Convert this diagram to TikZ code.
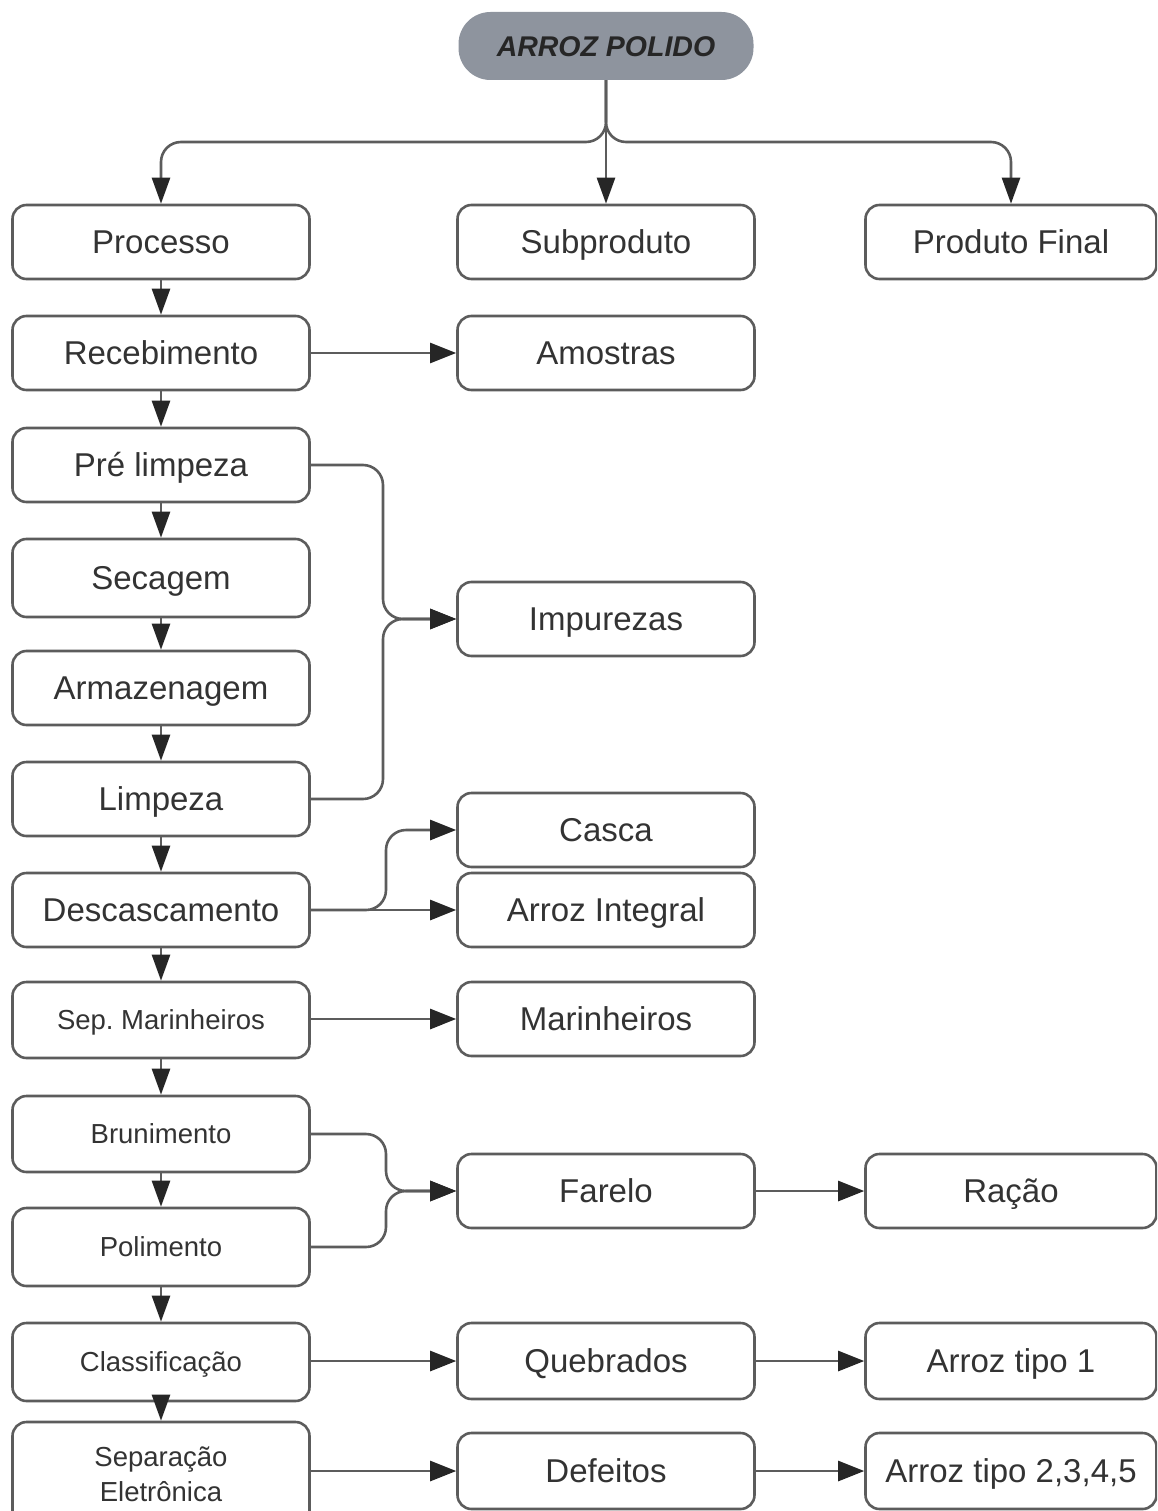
\documentclass[tikz,border=0pt]{standalone}
\usepackage{fontspec}
\setmainfont{Liberation Sans}
\usetikzlibrary{arrows.meta}
\definecolor{linec}{HTML}{5C5C5C}
\definecolor{tipc}{HTML}{262626}
\definecolor{txtc}{HTML}{333333}
\definecolor{topfill}{HTML}{8E949E}
\frenchspacing
\begin{document}
\begin{tikzpicture}[x=1pt,y=-1pt,
 box/.style={draw=linec, line width=2.6pt, rounded corners=14pt, fill=white, text=txtc,
   minimum height=74pt, inner sep=0pt, align=center, font=\fontsize{33}{38}\selectfont,
   text height=30.5pt, text depth=7pt},
 lbox/.style={box, minimum width=297pt},
 mbox/.style={box, minimum width=297pt},
 rbox/.style={box, minimum width=291pt},
 smalltext/.style={font=\fontsize{27.5}{35}\selectfont, text height=25.7pt, text depth=6pt},
 conn/.style={draw=linec, line width=2.6pt, -{Triangle[length=26pt,width=20pt,color=tipc]}},
 vconn/.style={conn, -{Triangle[length=26pt,width=18pt,color=tipc]}}
]
\useasboundingbox (0,0) rectangle (1157,1511);
\clip (0,0) rectangle (1157,1511);

% top
\node[fill=topfill, rounded corners=32pt, minimum width=295pt, minimum height=68pt, inner sep=0pt,
  text=black!85, font=\fontsize{28.5}{34}\selectfont\bfseries\itshape,
  text height=27pt, text depth=6.5pt] (top) at (606,46) {ARROZ POLIDO};

% left column
\node[lbox] (proc) at (161,242) {Processo};
\node[lbox] (rec) at (161,353) {Recebimento};
\node[lbox] (pre) at (161,465) {Pré limpeza};
\node[lbox, minimum height=78pt] (sec) at (161,578) {Secagem};
\node[lbox] (arm) at (161,688) {Armazenagem};
\node[lbox] (lim) at (161,799) {Limpeza};
\node[lbox] (desc) at (161,910) {Descascamento};
\node[lbox, smalltext, minimum height=76pt] (sepm) at (161,1020) {Sep.\ Marinheiros};
\node[lbox, smalltext, minimum height=76pt] (bru) at (161,1134) {Brunimento};
\node[lbox, smalltext, minimum height=78pt] (pol) at (161,1247) {Polimento};
\node[lbox, smalltext, minimum height=78pt] (cla) at (161,1362) {Classificação};
\node[lbox, smalltext, text height={}, text depth={}, minimum height=104pt] (sepe) at (161,1474) {Separação\\Eletrônica};

% middle column
\node[mbox] (sub) at (606,242) {Subproduto};
\node[mbox] (amo) at (606,353) {Amostras};
\node[mbox] (imp) at (606,619) {Impurezas};
\node[mbox] (cas) at (606,830) {Casca};
\node[mbox] (ai) at (606,910) {Arroz Integral};
\node[mbox] (mar) at (606,1019) {Marinheiros};
\node[mbox] (far) at (606,1191) {Farelo};
\node[mbox, minimum height=76pt] (que) at (606,1361) {Quebrados};
\node[mbox, minimum height=76pt] (def) at (606,1471) {Defeitos};

% right column
\node[rbox] (pf) at (1011,242) {Produto Final};
\node[rbox] (rac) at (1011,1191) {Ração};
\node[rbox, minimum height=76pt] (t1) at (1011,1361) {Arroz tipo 1};
\node[rbox, minimum height=76pt] (t2) at (1011,1471) {Arroz tipo 2,3,4,5};

% top connectors
\draw[vconn, rounded corners=20pt] (top.south) -- (606,142) -| (proc.north);
\draw[vconn, rounded corners=20pt] (top.south) -- (606,142) -| (pf.north);
\draw[vconn] (top.south) -- (sub.north);

% left chain
\draw[vconn] (proc) -- (rec);
\draw[vconn] (rec) -- (pre);
\draw[vconn] (pre) -- (sec);
\draw[vconn] (sec) -- (arm);
\draw[vconn] (arm) -- (lim);
\draw[vconn] (lim) -- (desc);
\draw[vconn] (desc) -- (sepm);
\draw[vconn] (sepm) -- (bru);
\draw[vconn] (bru) -- (pol);
\draw[vconn] (pol) -- (cla);
\draw[vconn] (cla) -- (sepe);

% side connectors
\draw[conn] (rec.east) -- (amo.west);
\coordinate (j1) at (383,619);
\draw[conn, rounded corners=20pt] (pre.east) -- (j1 |- pre.east) -- (j1) -- (imp.west);
\draw[conn, rounded corners=20pt] (lim.east) -- (j1 |- lim.east) -- (j1) -- (imp.west);

\draw[conn] (desc.east) -- (ai.west);
\draw[conn, rounded corners=20pt] (desc.east) -- (386,910) -- (386,830) -- (cas.west);

\draw[conn] (sepm.east |- mar.west) -- (mar.west);

\coordinate (j2) at (386,1191);
\draw[conn, rounded corners=20pt] (bru.east) -- (j2 |- bru.east) -- (j2) -- (far.west);
\draw[conn, rounded corners=20pt] (pol.east) -- (j2 |- pol.east) -- (j2) -- (far.west);

\draw[conn] (far.east) -- (rac.west);
\draw[conn] (cla.east |- que.west) -- (que.west);
\draw[conn] (que.east) -- (t1.west);
\draw[conn] (sepe.east |- def.west) -- (def.west);
\draw[conn] (def.east) -- (t2.west);
\end{tikzpicture}
\end{document}
